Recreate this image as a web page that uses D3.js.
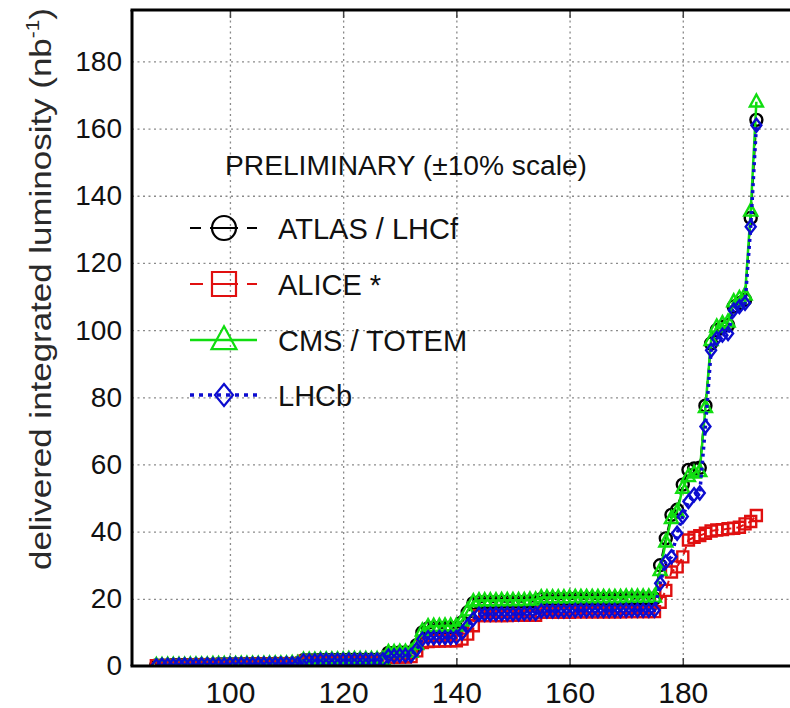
<!DOCTYPE html>
<html>
<head>
<meta charset="utf-8">
<script src="https://cdn.jsdelivr.net/npm/d3@7"></script>
<style>
  body { margin: 0; background: #fff; }
  svg { display: block; font-family: "Liberation Sans", Arial, Helvetica, sans-serif; }
</style>
</head>
<body>
<svg id="chart" width="790" height="708"></svg>
<script>
// day of year (2010)
var days = [87,88,89,90,91,92,93,94,95,96,97,98,99,100,101,102,103,104,105,106,107,108,109,110,111,112,
  113,114,115,116,117,118,119,120,121,122,123,124,125,126,127,
  128,129,130,131,132,
  133,134,135,136,137,138,139,140,
  141,142,143,
  144,145,146,147,148,149,150,151,152,153,154,
  155,156,157,158,159,160,161,162,163,164,165,166,167,168,169,170,171,172,173,174,175,
  176,177,178,179,180,181,182,183,184,185,186,187,188,189,190,191,192,193];

// delivered integrated luminosity (nb^-1)
var atlas = [0.2,0.2,0.2,0.3,0.3,0.3,0.3,0.4,0.4,0.4,0.4,0.5,0.5,0.5,0.5,0.5,0.6,0.6,0.6,0.6,0.6,0.7,0.7,0.7,0.7,0.8,
  1.7,1.7,1.7,1.8,1.8,1.8,1.8,1.8,1.9,1.9,1.9,1.9,1.9,1.9,2.0,
  3.9,3.9,4.0,4.0,4.0,
  6.2,10.0,11.2,11.3,11.3,11.4,11.4,11.4,
  13.0,16.0,18.7,
  19.0,19.0,19.0,19.0,19.1,19.1,19.1,19.1,19.1,19.2,19.2,
  19.9,19.9,19.9,19.9,19.9,19.9,20.0,20.0,20.0,20.0,20.0,20.0,20.0,20.0,20.0,20.1,20.1,20.1,20.1,20.1,20.1,
  30.0,38.0,45.0,46.5,54.0,58.4,58.8,59.0,77.5,96.0,100.0,101.0,101.5,107.0,108.0,109.0,133.4,162.6];

var alice = [0.1,0.1,0.2,0.2,0.2,0.2,0.3,0.3,0.3,0.3,0.3,0.4,0.4,0.4,0.4,0.4,0.5,0.5,0.5,0.5,0.5,0.5,0.6,0.6,0.6,0.6,
  1.4,1.4,1.4,1.5,1.5,1.5,1.5,1.5,1.6,1.6,1.6,1.6,1.6,1.6,1.7,
  2.6,2.6,2.7,2.7,2.8,
  4.5,7.0,7.3,7.4,7.4,7.5,7.5,7.5,
  8.0,9.5,12.0,
  15.0,15.0,15.0,15.0,15.0,15.0,15.1,15.1,15.1,15.1,15.1,
  16.0,16.0,16.0,16.0,16.0,16.0,16.1,16.1,16.1,16.1,16.1,16.1,16.1,16.1,16.1,16.2,16.2,16.2,16.2,16.2,16.2,
  19.0,22.5,28.0,29.5,32.5,37.5,38.3,38.8,39.5,40.2,40.5,40.6,40.9,41.0,41.3,42.3,43.0,44.8];

var cms = [0.2,0.2,0.3,0.3,0.3,0.3,0.4,0.4,0.4,0.4,0.5,0.5,0.5,0.5,0.5,0.6,0.6,0.6,0.6,0.6,0.7,0.7,0.7,0.7,0.8,0.8,
  1.8,1.8,1.8,1.9,1.9,1.9,1.9,1.9,2.0,2.0,2.0,2.0,2.0,2.0,2.1,
  4.1,4.1,4.2,4.2,4.2,
  6.5,10.5,11.8,11.9,11.9,12.0,12.0,12.0,
  13.5,16.5,19.2,
  19.5,19.5,19.5,19.5,19.6,19.6,19.6,19.6,19.6,19.7,19.7,
  20.4,20.4,20.4,20.4,20.4,20.4,20.5,20.5,20.5,20.5,20.5,20.5,20.5,20.5,20.5,20.6,20.6,20.6,20.6,20.6,20.6,
  28.5,37.0,44.0,46.0,53.0,56.5,57.5,58.0,77.0,97.0,101.0,102.0,102.5,108.5,109.5,110.5,135.5,168.0];

var lhcb = [0.1,0.2,0.2,0.2,0.3,0.3,0.3,0.3,0.4,0.4,0.4,0.4,0.4,0.5,0.5,0.5,0.5,0.5,0.6,0.6,0.6,0.6,0.6,0.7,0.7,0.7,
  1.6,1.6,1.6,1.7,1.7,1.7,1.7,1.7,1.8,1.8,1.8,1.8,1.8,1.8,1.9,
  3.0,3.0,3.1,3.1,3.1,
  5.0,8.0,8.4,8.4,8.5,8.5,8.5,8.6,
  9.8,12.0,14.0,
  15.4,15.4,15.4,15.5,15.5,15.5,15.5,15.5,15.6,15.6,15.6,
  16.4,16.4,16.4,16.4,16.4,16.4,16.5,16.5,16.5,16.5,16.5,16.5,16.5,16.5,16.5,16.6,16.6,16.6,16.6,16.6,16.6,
  24.6,31.0,32.5,39.5,44.5,49.0,51.0,51.5,71.3,94.0,97.5,98.5,99.0,106.0,107.0,108.0,130.8,161.0];

var names = ["ATLAS / LHCf", "ALICE *", "CMS / TOTEM", "LHCb"];
var xTicks = [100, 120, 140, 160, 180, 200];
var yTicks = [0, 20, 40, 60, 80, 100, 120, 140, 160, 180];

// marker shapes, centred on 0,0
function circle(r) {
  return "M" + (-r) + ",0A" + r + "," + r + " 0 1,0 " + r + ",0A" + r + "," + r + " 0 1,0 " + (-r) + ",0Z";
}
function square(s) { var h = s / 2; return "M" + (-h) + "," + (-h) + "H" + h + "V" + h + "H" + (-h) + "Z"; }
function triangle(w, h) { return "M0," + (-h * 0.6) + "L" + (w / 2) + "," + (h * 0.4) + "L" + (-w / 2) + "," + (h * 0.4) + "Z"; }
function diamond(w, h) { return "M0," + (-h / 2) + "L" + (w / 2) + ",0L0," + (h / 2) + "L" + (-w / 2) + ",0Z"; }

var series = [
  { name: names[0], values: atlas, color: "#000000", dash: "8,5", width: 2, mark: circle(6), big: circle(12), legDash: "11,9,28,9,11" },
  { name: names[1], values: alice, color: "#e01010", dash: "8,5", width: 2, mark: square(11), big: square(24), legDash: "13,9,26,9,11" },
  { name: names[2], values: cms, color: "#10dd10", dash: null, width: 2.5, mark: triangle(13, 12), big: triangle(25, 23), legDash: null },
  { name: names[3], values: lhcb, color: "#0c0cd0", dash: "3,4", width: 3.5, mark: diamond(10, 13), big: diamond(18, 22), legDash: "4,5" }
];

var svg = d3.select("#chart"),
    margin = { top: 10, left: 132 },
    width = 664,
    height = 656,
    g = svg.append("g").attr("transform", "translate(" + margin.left + "," + margin.top + ")");

var x = d3.scaleLinear().domain([82.7, 200]).range([0, width]);
var y = d3.scaleLinear().domain([0, 195.3]).range([height, 0]);

// grid
g.append("g")
    .attr("class", "grid")
    .attr("transform", "translate(0," + height + ")")
    .call(d3.axisBottom(x).tickValues(xTicks).tickSize(-height).tickFormat(""));
g.append("g")
    .attr("class", "grid")
    .call(d3.axisLeft(y).tickValues(yTicks.slice(1)).tickSize(-width).tickFormat(""));
g.selectAll(".grid .domain").remove();
g.selectAll(".grid line")
    .attr("stroke", "#8a8a8a")
    .attr("stroke-width", 1.3)
    .attr("stroke-dasharray", "2,3.5");

// inward ticks
g.append("g").attr("transform", "translate(0," + height + ")")
    .call(d3.axisBottom(x).tickValues(xTicks).tickSize(-8).tickFormat(""))
    .call(function(a) { a.select(".domain").remove(); a.selectAll("line").attr("stroke", "#444").attr("stroke-width", 1.5); });
g.append("g")
    .call(d3.axisTop(x).tickValues(xTicks).tickSize(-8).tickFormat(""))
    .call(function(a) { a.select(".domain").remove(); a.selectAll("line").attr("stroke", "#444").attr("stroke-width", 1.5); });

// data
g.append("clipPath").attr("id", "plotclip")
  .append("rect").attr("width", width).attr("height", height);

var plot = g.append("g").attr("clip-path", "url(#plotclip)");

var line = d3.line()
    .x(function(d, i) { return x(days[i]); })
    .y(function(d) { return y(d); });

series.forEach(function(s) {
  var sg = plot.append("g");
  sg.append("path")
      .datum(s.values)
      .attr("fill", "none")
      .attr("stroke", s.color)
      .attr("stroke-width", s.width)
      .attr("stroke-dasharray", s.dash)
      .attr("d", line);
  sg.selectAll("path.mk")
    .data(s.values)
    .enter().append("path")
      .attr("class", "mk")
      .attr("d", s.mark)
      .attr("transform", function(d, i) { return "translate(" + x(days[i]) + "," + y(d) + ")"; })
      .attr("fill", "none")
      .attr("stroke", s.color)
      .attr("stroke-width", 2.4);
});

// frame
g.append("line").attr("x1", 0).attr("x2", 0).attr("y1", 0).attr("y2", height)
    .attr("stroke", "#000").attr("stroke-width", 3);
g.append("line").attr("x1", -1.5).attr("x2", width).attr("y1", 0).attr("y2", 0)
    .attr("stroke", "#000").attr("stroke-width", 3);
g.append("line").attr("x1", -1.5).attr("x2", width).attr("y1", height).attr("y2", height)
    .attr("stroke", "#000").attr("stroke-width", 3);

// tick labels
g.append("g")
    .call(d3.axisLeft(y).tickValues(yTicks).tickSize(0).tickPadding(10))
    .call(function(a) {
      a.select(".domain").remove();
      a.selectAll("text").attr("font-size", 28).attr("fill", "#111").attr("font-family", null);
    });
g.append("g")
    .attr("transform", "translate(0," + height + ")")
    .call(d3.axisBottom(x).tickValues(xTicks.slice(0, 5)).tickSize(0).tickPadding(16))
    .call(function(a) {
      a.select(".domain").remove();
      a.selectAll("text").attr("font-size", 30).attr("fill", "#111").attr("font-family", null);
    });

// y axis title
var yt = svg.append("text")
    .attr("transform", "translate(51,289) rotate(-90)")
    .attr("text-anchor", "middle")
    .attr("font-size", 30)
    .attr("textLength", 562)
    .attr("lengthAdjust", "spacingAndGlyphs")
    .attr("fill", "#2a2a2a");
yt.append("tspan").text("delivered integrated luminosity (nb");
yt.append("tspan").attr("font-size", 18).attr("dy", -12).text("-1");
yt.append("tspan").attr("dy", 12).text(")");

// legend
var leg = svg.append("g");
leg.append("text")
    .attr("x", 225).attr("y", 175)
    .attr("font-size", 27)
    .attr("textLength", 362)
    .attr("lengthAdjust", "spacingAndGlyphs")
    .attr("fill", "#111")
    .text("PRELIMINARY (\u00b110% scale)");

var rows = [228, 284, 340, 395];
series.forEach(function(s, i) {
  var r = leg.append("g").attr("transform", "translate(0," + rows[i] + ")");
  r.append("line")
      .attr("x1", 190).attr("x2", 257)
      .attr("stroke", s.color)
      .attr("stroke-width", s.width)
      .attr("stroke-dasharray", s.legDash);
  r.append("path")
      .attr("d", s.big)
      .attr("transform", "translate(224,0)")
      .attr("fill", "none")
      .attr("stroke", s.color)
      .attr("stroke-width", 2.2);
  r.append("text")
      .attr("x", 278).attr("y", 10.5)
      .attr("font-size", 29)
      .attr("fill", "#111")
      .text(s.name);
});
</script>
</body>
</html>
